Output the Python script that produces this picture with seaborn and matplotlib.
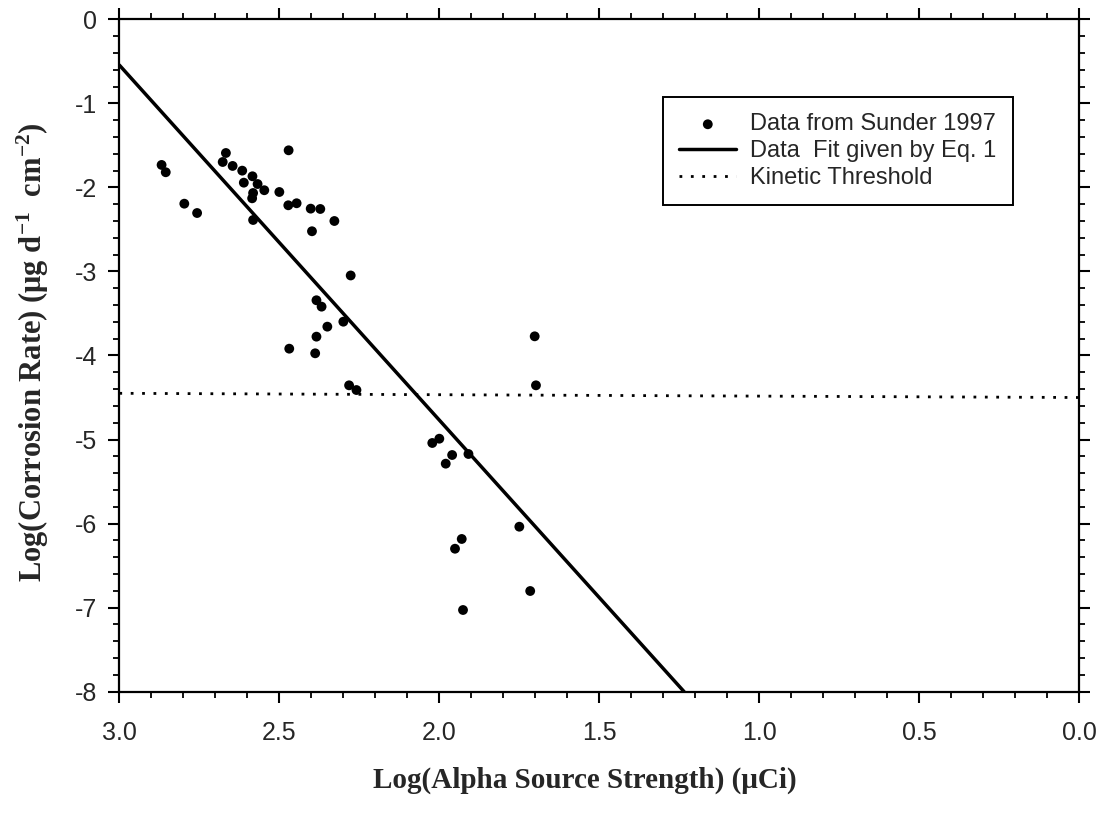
import matplotlib
matplotlib.use("Agg")
import matplotlib.pyplot as plt
from matplotlib.ticker import MultipleLocator
import numpy as np
import pandas as pd
import seaborn as sns

# Measured corrosion rates versus alpha source strength (Sunder 1997)
log_source = [2.868, 2.855, 2.797, 2.757, 2.667, 2.677, 2.646, 2.616, 2.584,
              2.568, 2.611, 2.582, 2.585, 2.547, 2.500, 2.471, 2.472, 2.446,
              2.402, 2.372, 2.328, 2.398, 2.582, 2.277, 2.384, 2.368, 2.300,
              2.350, 2.384, 2.469, 2.388, 2.282, 2.259, 1.702, 1.698, 2.022,
              2.000, 1.960, 1.980, 1.909, 1.750, 1.930, 1.951, 1.716, 1.926]
log_rate = [-1.733, -1.820, -2.194, -2.305, -1.591, -1.698, -1.745, -1.801, -1.868,
            -1.960, -1.944, -2.067, -2.130, -2.034, -2.055, -1.559, -2.213, -2.189,
            -2.253, -2.257, -2.400, -2.522, -2.388, -3.048, -3.343, -3.419, -3.598,
            -3.657, -3.776, -3.919, -3.974, -4.355, -4.411, -3.772, -4.355, -5.041,
            -4.990, -5.184, -5.287, -5.172, -6.037, -6.183, -6.299, -6.802, -7.028]

# Fit given by Eq. 1 (end points within the plotted range)
fit_x = [3.0, 1.235]
fit_y = [-0.545, -8.0]

# Kinetic threshold
threshold_x = [3.0, 0.0]
threshold_y = [-4.45, -4.50]

x_ticks = [3.0, 2.5, 2.0, 1.5, 1.0, 0.5, 0.0]
y_ticks = [0, -1, -2, -3, -4, -5, -6, -7, -8]

sns.set_style("ticks")
plt.rcParams["font.family"] = ["Liberation Sans", "DejaVu Sans"]
plt.rcParams["mathtext.fontset"] = "custom"
plt.rcParams["mathtext.rm"] = "Liberation Serif:bold"
plt.rcParams["mathtext.it"] = "Liberation Serif:bold"
plt.rcParams["mathtext.bf"] = "Liberation Serif:bold"

fig = plt.figure(figsize=(11.02, 8.13), dpi=100)
ax = fig.add_axes([0.1083, 0.1492, 0.8711, 0.8271])

pts = pd.DataFrame({"x": log_source, "y": log_rate})
sns.scatterplot(data=pts, x="x", y="y", ax=ax, color="black", s=50,
                edgecolor="none", linewidth=0, label="Data from Sunder 1997",
                zorder=3)
sns.lineplot(x=fit_x, y=fit_y, ax=ax, color="black", linewidth=2.5,
             sort=False, label="Data  Fit given by Eq. 1", zorder=2)
sns.lineplot(x=threshold_x, y=threshold_y, ax=ax, color="black", linewidth=2.0,
             sort=False, label="Kinetic Threshold", zorder=2)
ax.lines[-1].set_linestyle((0, (1, 3.1)))
ax.lines[-1].set_dash_capstyle("butt")

ax.set_xlim(3.0, 0.0)
ax.set_ylim(-8, 0)
ax.set_xticks(x_ticks)
ax.set_xticklabels([f"{t:.1f}" for t in x_ticks])
ax.set_yticks(y_ticks)
ax.set_yticklabels([str(t) for t in y_ticks])
ax.xaxis.set_minor_locator(MultipleLocator(0.1))
ax.yaxis.set_minor_locator(MultipleLocator(0.2))

for side in ["left", "right", "top", "bottom"]:
    ax.spines[side].set_visible(True)
    ax.spines[side].set_linewidth(1.6)
    ax.spines[side].set_color("black")

ax.tick_params(which="both", direction="out", top=True, right=True,
               labeltop=False, labelright=False, color="black")
ax.tick_params(which="major", length=8, width=1.5, labelsize=18)
ax.tick_params(axis="x", which="major", pad=13)
ax.tick_params(axis="y", which="major", pad=8)
ax.tick_params(which="minor", length=4.5, width=1.3)

ax.set_xlabel("Log(Alpha Source Strength) (μCi)", fontfamily="Liberation Serif",
              fontweight="bold", fontsize=21)
ax.xaxis.label.set_va("baseline")
ax.xaxis.set_label_coords(0.485, -0.1432)

ax.set_ylabel("Log(Corrosion Rate) (μg d$^{-1}$  cm$^{-2}$)",
              fontfamily="Liberation Serif", fontweight="bold", fontsize=22)
ax.yaxis.label.set_va("center")
ax.yaxis.set_label_coords(-0.0899, 0.505)

leg = ax.legend(loc="upper right", bbox_to_anchor=(0.931, 0.8845), fontsize=17,
                frameon=True, fancybox=False, framealpha=1, edgecolor="black",
                handlelength=2.4, handletextpad=0.6, borderpad=0.7,
                borderaxespad=0, labelspacing=0.2)
leg.get_frame().set_linewidth(1.4)

fig.savefig("out.png", dpi=100, facecolor="white")
